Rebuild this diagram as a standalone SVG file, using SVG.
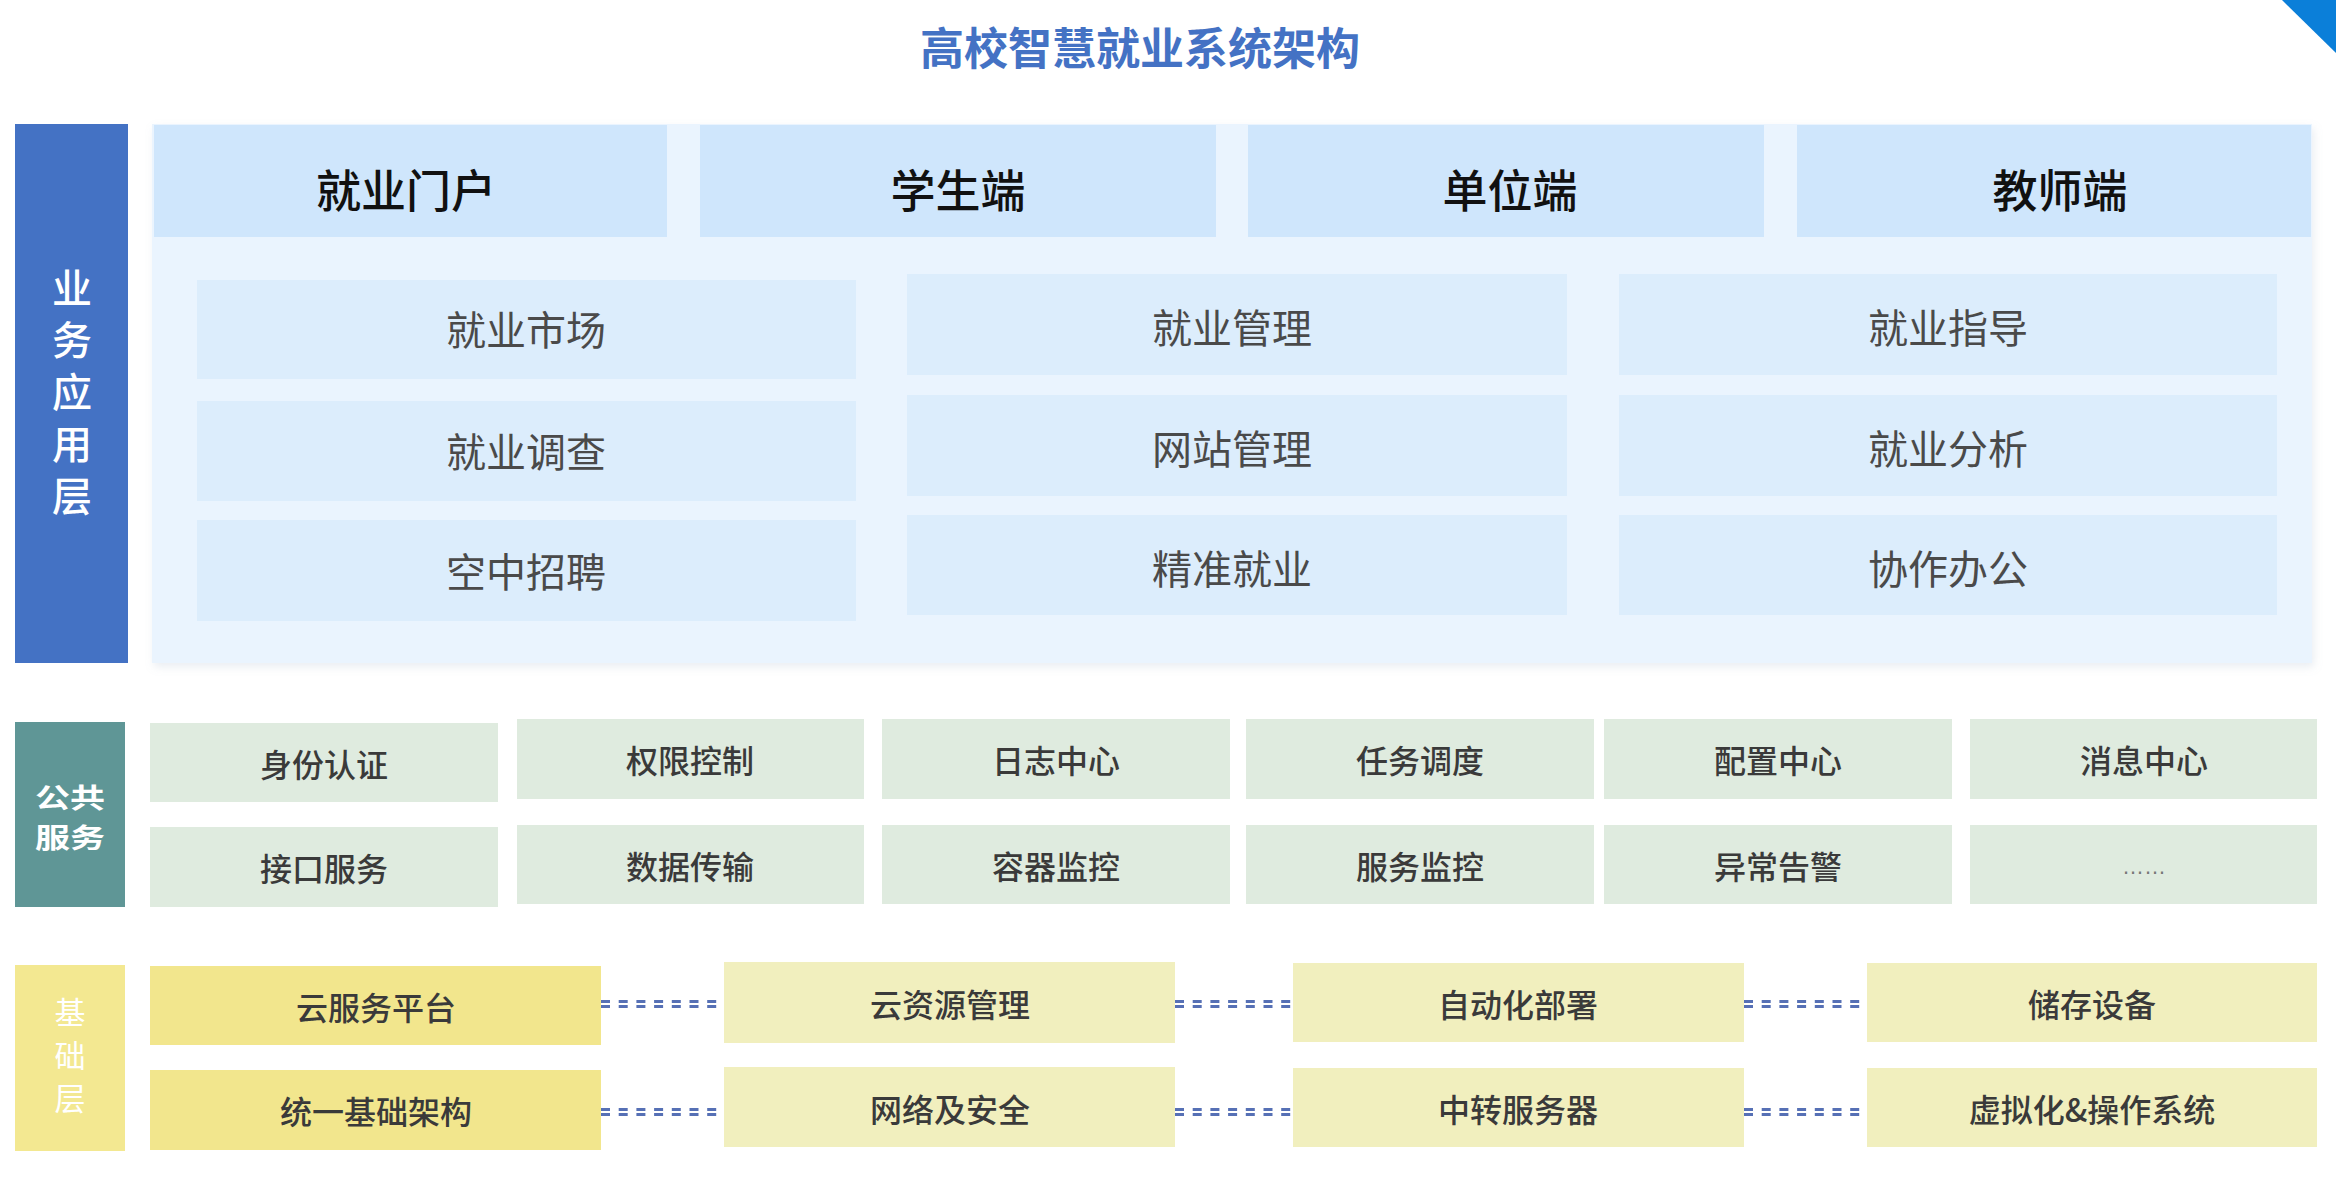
<svg xmlns="http://www.w3.org/2000/svg" width="2336" height="1179" viewBox="0 0 2336 1179">
<defs>
<style>
.t{font-family:"Noto Sans CJK SC","Noto Sans",sans-serif;text-anchor:middle;dominant-baseline:central}
.v{font-family:"Noto Sans CJK SC","Noto Sans",sans-serif;text-anchor:middle;writing-mode:vertical-rl;fill:#fff}
.title{font-size:44px;font-weight:700;fill:#4472C4}
.tab{fill:#CFE6FC}
.tabt{font-size:45px;font-weight:500;fill:#111}
.app{fill:#DCEDFC}
.appt{font-size:40px;fill:#4a4a4a}
.svc{fill:#DFEBDF}
.svct{font-size:32px;font-weight:500;fill:#3a3a3a}
.base1{fill:#F2E68D}
.base2{fill:#F1EFBE}
.dot{stroke:#5670B5;stroke-width:3;stroke-dasharray:9 8.7;fill:none}
</style>
<filter id="sh" x="-2%" y="-5%" width="105%" height="112%">
<feDropShadow dx="2" dy="4" stdDeviation="4" flood-color="#8aa0b8" flood-opacity="0.18"/>
</filter>
</defs>
<rect width="2336" height="1179" fill="#fff"/>
<polygon points="2282,0 2336,0 2336,53" fill="#0B7FD9"/>
<text class="t title" x="1140" y="46">高校智慧就业系统架构</text>

<!-- 业务应用层 -->
<g id="layer-app-label">
<rect x="15" y="124" width="113" height="539" fill="#4472C4"/>
<text class="v" x="72" y="398" style="font-size:40px;font-weight:500;letter-spacing:12px">业务应用层</text>
</g>
<g id="app-container">
<rect x="152" y="124" width="2160" height="539" fill="#EAF4FE" filter="url(#sh)"/>
</g>
<g id="tab-portal"><rect class="tab" x="154" y="125" width="513" height="112"/><text class="t tabt" x="406" y="188">就业门户</text></g>
<g id="tab-student"><rect class="tab" x="700" y="125" width="516" height="112"/><text class="t tabt" x="958" y="188">学生端</text></g>
<g id="tab-company"><rect class="tab" x="1248" y="125" width="516" height="112"/><text class="t tabt" x="1510" y="188">单位端</text></g>
<g id="tab-teacher"><rect class="tab" x="1797" y="125" width="514" height="112"/><text class="t tabt" x="2060" y="188">教师端</text></g>

<g id="app-market"><rect class="app" x="197" y="280" width="659" height="99"/><text class="t appt" x="526" y="328">就业市场</text></g>
<g id="app-survey"><rect class="app" x="197" y="401" width="659" height="100"/><text class="t appt" x="526" y="450">就业调查</text></g>
<g id="app-recruit"><rect class="app" x="197" y="520" width="659" height="101"/><text class="t appt" x="526" y="570">空中招聘</text></g>
<g id="app-manage"><rect class="app" x="907" y="274" width="660" height="101"/><text class="t appt" x="1232" y="326">就业管理</text></g>
<g id="app-website"><rect class="app" x="907" y="395" width="660" height="101"/><text class="t appt" x="1232" y="447">网站管理</text></g>
<g id="app-precise"><rect class="app" x="907" y="515" width="660" height="100"/><text class="t appt" x="1232" y="567">精准就业</text></g>
<g id="app-guide"><rect class="app" x="1619" y="274" width="658" height="101"/><text class="t appt" x="1948" y="326">就业指导</text></g>
<g id="app-analysis"><rect class="app" x="1619" y="395" width="658" height="101"/><text class="t appt" x="1948" y="447">就业分析</text></g>
<g id="app-office"><rect class="app" x="1619" y="515" width="658" height="100"/><text class="t appt" x="1948" y="567">协作办公</text></g>

<!-- 公共服务 -->
<g id="layer-svc-label">
<rect x="15" y="722" width="110" height="185" fill="#5F9696"/>
<text class="t" transform="translate(70 796) scale(1 0.78)" style="font-size:35px;font-weight:700;fill:#fff">公共</text>
<text class="t" transform="translate(70 836) scale(1 0.78)" style="font-size:35px;font-weight:700;fill:#fff">服务</text>
</g>
<g id="svc-auth"><rect class="svc" x="150" y="723" width="348" height="79"/><text class="t svct" x="324" y="763">身份认证</text></g>
<g id="svc-perm"><rect class="svc" x="517" y="719" width="347" height="80"/><text class="t svct" x="690" y="759">权限控制</text></g>
<g id="svc-log"><rect class="svc" x="882" y="719" width="348" height="80"/><text class="t svct" x="1056" y="759">日志中心</text></g>
<g id="svc-task"><rect class="svc" x="1246" y="719" width="348" height="80"/><text class="t svct" x="1420" y="759">任务调度</text></g>
<g id="svc-config"><rect class="svc" x="1604" y="719" width="348" height="80"/><text class="t svct" x="1778" y="759">配置中心</text></g>
<g id="svc-msg"><rect class="svc" x="1970" y="719" width="347" height="80"/><text class="t svct" x="2144" y="759">消息中心</text></g>
<g id="svc-api"><rect class="svc" x="150" y="827" width="348" height="80"/><text class="t svct" x="324" y="867">接口服务</text></g>
<g id="svc-data"><rect class="svc" x="517" y="825" width="347" height="79"/><text class="t svct" x="690" y="865">数据传输</text></g>
<g id="svc-container"><rect class="svc" x="882" y="825" width="348" height="79"/><text class="t svct" x="1056" y="865">容器监控</text></g>
<g id="svc-monitor"><rect class="svc" x="1246" y="825" width="348" height="79"/><text class="t svct" x="1420" y="865">服务监控</text></g>
<g id="svc-alert"><rect class="svc" x="1604" y="825" width="348" height="79"/><text class="t svct" x="1778" y="865">异常告警</text></g>
<g id="svc-more"><rect class="svc" x="1970" y="825" width="347" height="79"/><text class="t" x="2144" y="866" style="font-size:22px;fill:#777;font-family:'Liberation Sans',sans-serif">……</text></g>

<!-- 基础层 -->
<g id="layer-base-label">
<rect x="15" y="965" width="110" height="186" fill="#F3E891"/>
<text class="v" x="70" y="1061" style="font-size:31px;letter-spacing:12px">基础层</text>
</g>
<g id="base-cloud"><rect class="base1" x="150" y="966" width="451" height="79"/><text class="t svct" x="376" y="1006">云服务平台</text></g>
<g id="base-infra"><rect class="base1" x="150" y="1070" width="451" height="80"/><text class="t svct" x="376" y="1110">统一基础架构</text></g>
<g id="base-res"><rect class="base2" x="724" y="962" width="451" height="81"/><text class="t svct" x="950" y="1003">云资源管理</text></g>
<g id="base-net"><rect class="base2" x="724" y="1067" width="451" height="80"/><text class="t svct" x="950" y="1108">网络及安全</text></g>
<g id="base-deploy"><rect class="base2" x="1293" y="963" width="451" height="79"/><text class="t svct" x="1518" y="1003">自动化部署</text></g>
<g id="base-relay"><rect class="base2" x="1293" y="1068" width="451" height="79"/><text class="t svct" x="1518" y="1108">中转服务器</text></g>
<g id="base-storage"><rect class="base2" x="1867" y="963" width="450" height="79"/><text class="t svct" x="2092" y="1003">储存设备</text></g>
<g id="base-os"><rect class="base2" x="1867" y="1068" width="450" height="79"/><text class="t svct" x="2092" y="1108">虚拟化&amp;操作系统</text></g>

<g id="connectors">
<path class="dot" d="M601 1001.5H718M601 1006.5H718M601 1109.5H718M601 1114.5H718"/>
<path class="dot" d="M1175 1001.5H1292M1175 1006.5H1292M1175 1109.5H1292M1175 1114.5H1292"/>
<path class="dot" d="M1744 1001.5H1861M1744 1006.5H1861M1744 1109.5H1861M1744 1114.5H1861"/>
</g>
</svg>
